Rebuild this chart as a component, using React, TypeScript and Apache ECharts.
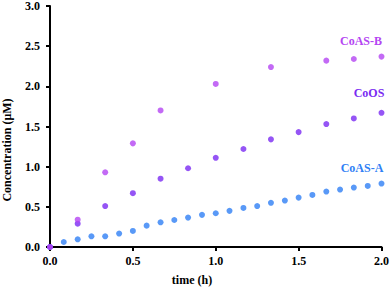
import React, { useEffect, useRef } from "react";
import * as echarts from "echarts";

const timesA = [0, 0.083, 0.167, 0.25, 0.333, 0.417, 0.5, 0.583, 0.667, 0.75, 0.833, 0.917, 1.0, 1.083, 1.167, 1.25, 1.333, 1.417, 1.5, 1.583, 1.667, 1.75, 1.833, 1.917, 2.0];
const coasA = [0, 0.062, 0.096, 0.133, 0.133, 0.167, 0.2, 0.266, 0.307, 0.336, 0.366, 0.4, 0.42, 0.45, 0.486, 0.51, 0.55, 0.578, 0.615, 0.648, 0.69, 0.715, 0.74, 0.76, 0.79];
const timesB = [0, 0.167, 0.333, 0.5, 0.667, 0.833, 1.0, 1.167, 1.333, 1.5, 1.667, 1.833, 2.0];
const coos = [0, 0.29, 0.51, 0.67, 0.85, 0.98, 1.11, 1.22, 1.34, 1.43, 1.53, 1.6, 1.67];
const coasBTimes = [0, 0.167, 0.333, 0.5, 0.667, 1.0, 1.333, 1.667, 1.833, 2.0];
const coasB = [0, 0.34, 0.93, 1.29, 1.7, 2.03, 2.24, 2.32, 2.34, 2.37];

const colA = "#2f80f5";
const colO = "#7a2bf2";
const colB = "#b445f2";
const font = "'Liberation Serif', 'Times New Roman', serif";

export default function App() {
  const ref = useRef<HTMLDivElement>(null);
  useEffect(() => {
    const chart = echarts.init(ref.current!, null, { renderer: "svg" });
    const zip = (xs: number[], ys: number[]) => xs.map((x, i) => [x, ys[i]]);
    chart.setOption({
      animation: false,
      grid: { left: 50, right: 9, top: 6, bottom: 41 },
      xAxis: {
        type: "value", min: 0, max: 2, interval: 0.5,
        axisLine: { lineStyle: { color: "#000", width: 2 } },
        axisTick: { show: true, length: 4, lineStyle: { color: "#000", width: 2 } },
        splitLine: { show: false },
        axisLabel: { color: "#000", fontFamily: font, fontWeight: "bold", fontSize: 12, margin: 8, formatter: (v: number) => v.toFixed(1) },
      },
      yAxis: {
        type: "value", min: 0, max: 3, interval: 0.5,
        axisLine: { show: true, lineStyle: { color: "#000", width: 2 } },
        axisTick: { show: true, length: 4, lineStyle: { color: "#000", width: 2 } },
        splitLine: { show: false },
        axisLabel: { color: "#000", fontFamily: font, fontWeight: "bold", fontSize: 12, margin: 10, formatter: (v: number) => v.toFixed(1) },
      },
      series: [
        { type: "scatter", name: "CoAS-A", data: zip(timesA, coasA), symbolSize: 6, itemStyle: { color: colA } },
        { type: "scatter", name: "CoOS", data: zip(timesB, coos), symbolSize: 6, itemStyle: { color: colO } },
        { type: "scatter", name: "CoAS-B", data: zip(coasBTimes, coasB), symbolSize: 6, itemStyle: { color: colB } },
      ],
      graphic: [
        { type: "text", x: 361, y: 41, style: { text: "CoAS-B", fill: colB, font: `bold 12px ${font}`, align: "center", verticalAlign: "middle" } },
        { type: "text", x: 369, y: 93, style: { text: "CoOS", fill: colO, font: `bold 12px ${font}`, align: "center", verticalAlign: "middle" } },
        { type: "text", x: 362, y: 168, style: { text: "CoAS-A", fill: colA, font: `bold 12px ${font}`, align: "center", verticalAlign: "middle" } },
        { type: "text", x: 192, y: 280, style: { text: "time (h)", fill: "#000", font: `bold 12px ${font}`, align: "center", verticalAlign: "middle" } },
        { type: "text", x: 7, y: 150, rotation: Math.PI / 2, style: { text: "Concentration (μM)", fill: "#000", font: `bold 12px ${font}`, align: "center", verticalAlign: "middle" } },
      ],
    });
    return () => chart.dispose();
  }, []);
  return <div ref={ref} style={{ width: 392, height: 288, position: "fixed", left: 0, top: 0, background: "#fff" }} />;
}
